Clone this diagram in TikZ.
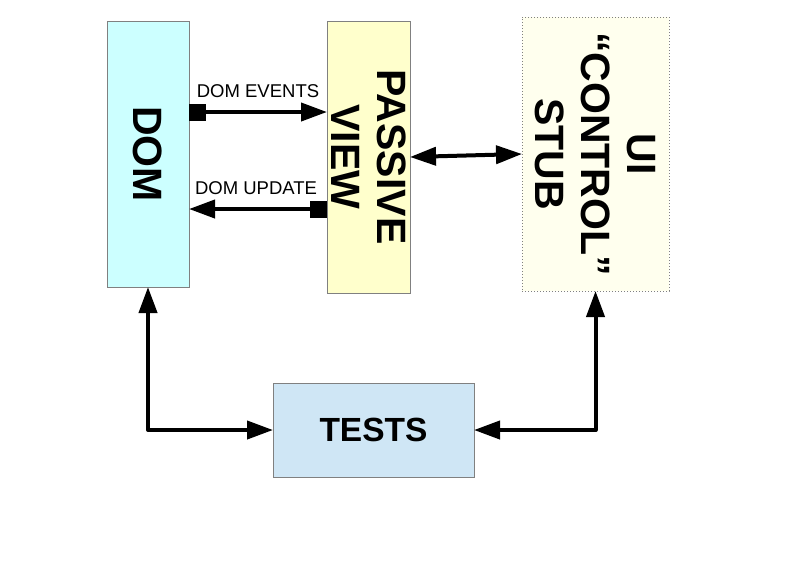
\documentclass[tikz,border=0pt]{standalone}
\usepackage{fontspec}
\setmainfont{Liberation Sans}
\usepackage{graphicx}
\usetikzlibrary{arrows.meta}
\definecolor{domfill}{HTML}{CCFFFF}
\definecolor{pvfill}{HTML}{FFFFCC}
\definecolor{uifill}{HTML}{FFFFEE}
\definecolor{testfill}{HTML}{CFE6F5}
\definecolor{edge}{HTML}{808080}
\newcommand{\bigtxt}{\fontsize{41}{46}\selectfont\bfseries}
\newcommand{\rotlines}[1]{\makebox[0pt][c]{\hspace*{-9pt}\rotatebox{-90}{\setlength{\tabcolsep}{0pt}\begin{tabular}{c}#1\end{tabular}}}}
\begin{document}
\begin{tikzpicture}[x=1pt,y=-1pt,
  >={Triangle[length=26pt,width=18pt]},
  box/.style={draw=edge, line width=1pt, inner sep=0pt, outer sep=0pt, align=center},
  conn/.style={line width=4pt, line join=round, line cap=butt},
  lbl/.style={font=\fontsize{18.5}{21}\selectfont, inner sep=0pt}]
\useasboundingbox (0,0) rectangle (800,566);
\node[box, fill=domfill, minimum width=82pt, minimum height=266pt] (dom) at (148,154)
  {\bigtxt\rotatebox{-90}{DOM}};
\node[box, fill=pvfill, minimum width=83pt, minimum height=272pt] (pv) at (368.5,157)
  {\bigtxt\rotlines{PASSIVE\\VIEW}};
\node[box, fill=uifill, dotted, minimum width=147pt, minimum height=274pt] (ui) at (595.5,154)
  {\bigtxt\rotlines{UI\\``CONTROL''\\STUB}};
\node[box, fill=testfill, minimum width=201pt, minimum height=94pt] (tests) at (373.5,430)
  {\fontsize{33.5}{40}\selectfont\bfseries TESTS};
\coordinate (e1) at ([yshift=42pt]dom.east);
\coordinate (u1) at ([yshift=-55pt]dom.east);
\draw[conn, {Square[length=17pt,width=17pt]}->] (e1) -- (pv.west |- e1);
\draw[conn, {Square[length=17pt,width=17pt]}->] (pv.west |- u1) -- (u1);
\node[lbl] (lev) at (258,91) {DOM EVENTS};
\node[lbl] (lup) at (256,188) {DOM UPDATE};
\draw[conn, <->] (pv.east) -- (ui.west);
\draw[conn, <->] (dom.south) |- (tests.west);
\draw[conn, <->] (ui.south) |- (tests.east);
\end{tikzpicture}
\end{document}
